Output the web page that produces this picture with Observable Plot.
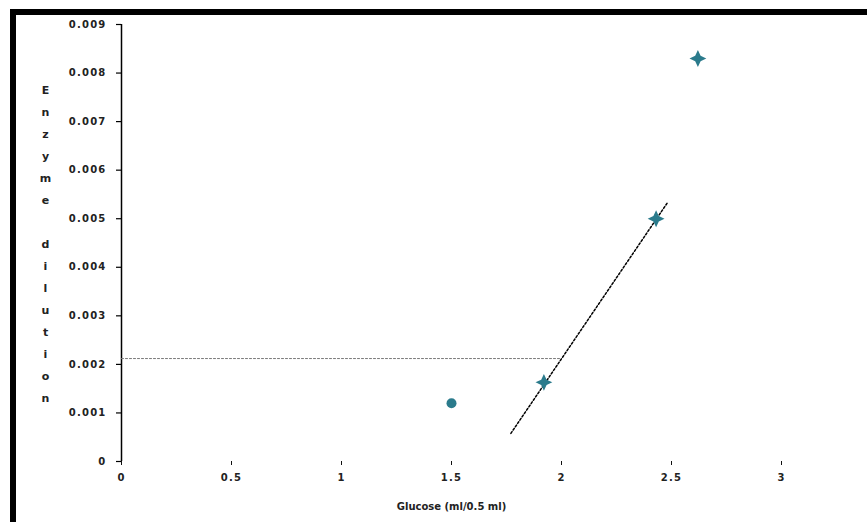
<!DOCTYPE html>
<html>
<head>
<meta charset="utf-8">
<script src="https://cdn.jsdelivr.net/npm/d3@7"></script>
<script src="https://cdn.jsdelivr.net/npm/@observablehq/plot@0.6"></script>
<style>
  html, body { margin: 0; padding: 0; background: #fff; }
  #wrap { position: relative; width: 867px; height: 522px; overflow: hidden; }
  #frame { position: absolute; left: 10px; top: 9px; width: 857px; height: 513px;
           border-top: 6px solid #000; border-left: 6px solid #000; box-sizing: border-box; pointer-events: none; }
  #chart svg g[aria-label="y-axis tick label"] text,
  #chart svg g[aria-label="x-axis tick label"] text { letter-spacing: 1.2px; }
</style>
</head>
<body>
<div id="wrap"><div id="chart"></div><div id="frame"></div></div>
<script>
// Data
const glucose = [1.5, 1.92, 2.43, 2.62];
const dilution = [0.0012, 0.00163, 0.005, 0.0083];
const markerShape = ["circle", "star", "star", "star"];

// Fitted (dotted) line endpoints and the read-off level
const fitX = [1.77, 2.48];
const fitY = [0.00058, 0.00532];
const readX = [0, 2.0];
const readY = [0.00212, 0.00212];

const xTicks = [0, 0.5, 1, 1.5, 2, 2.5, 3];
const yTicks = [0, 0.001, 0.002, 0.003, 0.004, 0.005, 0.006, 0.007, 0.008, 0.009];

const points = glucose.map((g, i) => ({x: g, y: dilution[i], shape: markerShape[i]}));
const fit = fitX.map((x, i) => ({x, y: fitY[i]}));
const read = readX.map((x, i) => ({x, y: readY[i]}));

const star4 = {
  draw(ctx, size) {
    const r = Math.sqrt(size) * 0.95, k = r * 0.32;
    ctx.moveTo(0, -r); ctx.lineTo(k, -k); ctx.lineTo(r, 0); ctx.lineTo(k, k);
    ctx.lineTo(0, r); ctx.lineTo(-k, k); ctx.lineTo(-r, 0); ctx.lineTo(-k, -k);
    ctx.closePath();
  }
};

const teal = "#2b7b8c";
const font = "DejaVu Sans, sans-serif";

const chart = Plot.plot({
  width: 867,
  height: 522,
  marginLeft: 121,
  marginRight: 86,
  marginTop: 24,
  marginBottom: 61,
  style: {fontFamily: font, fontSize: "10px", background: "transparent", color: "#111"},
  x: {domain: [0, 3]},
  y: {domain: [0, 0.009]},
  marks: [
    Plot.axisY({ticks: yTicks, tickSize: 5, tickPadding: 10, label: null,
      tickFormat: d => d === 0 ? "0" : d3.format(".3f")(d),
      fontWeight: "bold", fill: "#222", stroke: "#000", strokeWidth: 1.2}),
    Plot.axisX({ticks: xTicks, tickSize: 4, tickPadding: 8,
      tickFormat: d => String(d), fontWeight: "bold", fill: "#222",
      label: "Glucose (ml/0.5 ml)", labelAnchor: "center", labelArrow: "none", labelOffset: 48}),
    Plot.ruleX([0], {stroke: "#000", strokeWidth: 1.5}),
    Plot.line(read, {x: "x", y: "y", stroke: "#777", strokeWidth: 1, strokeDasharray: "2,2"}),
    Plot.line(fit, {x: "x", y: "y", stroke: "#000", strokeWidth: 1.5, strokeDasharray: "2,2"}),
    Plot.dot(points.filter(d => d.shape === "circle"), {x: "x", y: "y", r: 5, symbol: "circle", fill: teal, stroke: "none"}),
    Plot.dot(points.filter(d => d.shape === "star"), {x: "x", y: "y", r: 5, symbol: star4, fill: teal, stroke: "none"}),
    Plot.text(["Enzyme dilution"], {
      text: d => d.split("").join("\n"),
      frameAnchor: "left", dx: -76, dy: -2, lineHeight: 2.0,
      fontSize: 11, fontWeight: "bold", fill: "#222", textAnchor: "middle"
    })
  ]
});
document.getElementById("chart").appendChild(chart);
</script>
</body>
</html>
